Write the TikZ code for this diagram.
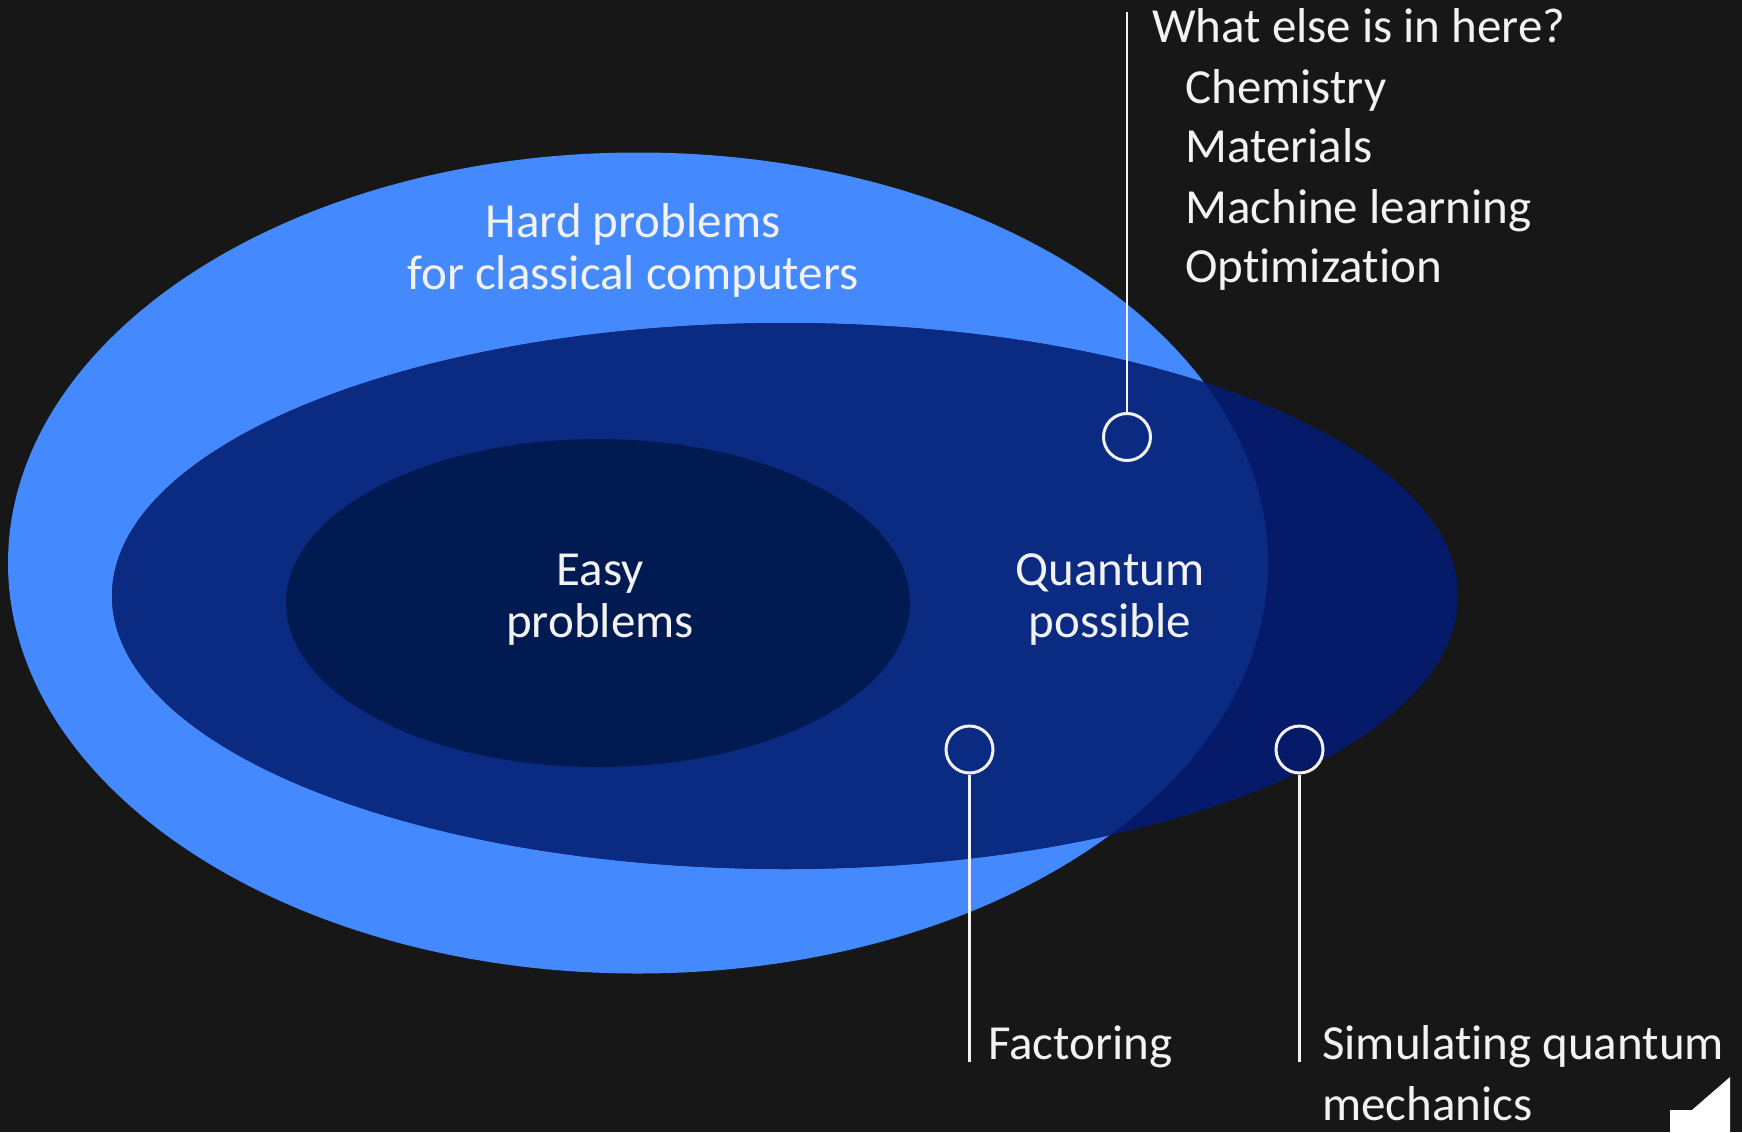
\documentclass[tikz,border=0pt]{standalone}
\usepackage{fontspec}
\setmainfont{Carlito}[RawFeature={-liga;-clig;-dlig;-calt;-rlig}]

\definecolor{pozadie}{HTML}{171717}
\definecolor{svetla}{HTML}{4589FF}
\definecolor{stredna}{HTML}{0B2A82}
\definecolor{tmava}{HTML}{061A6A}
\definecolor{lahka}{HTML}{011A52}
\definecolor{pismo}{HTML}{F2F2F2}

\tikzset{
  popis/.style={text=pismo, inner sep=0pt, font=\fontsize{49}{52}\selectfont},
  zoznam/.style={popis, anchor=base west},
  kruzok/.style={circle, draw=pismo, line width=3pt, minimum size=47pt, inner sep=0pt},
  vodic/.style={draw=pismo, line width=2.5pt}
}

\begin{document}
\begin{tikzpicture}[x=1pt,y=-1pt]
  % pozadie
  \fill[pozadie] (0,0) rectangle (1742,1132);
  \useasboundingbox (0,0) rectangle (1742,1132);

  % elipsy
  \fill[svetla] (638,563) ellipse [x radius=630, y radius=410.5];
  \fill[tmava] (785,596) ellipse [x radius=673, y radius=273];
  \begin{scope}
    \clip (638,563) ellipse [x radius=630, y radius=410.5];
    \fill[stredna] (785,596) ellipse [x radius=673, y radius=273];
  \end{scope}
  \fill[lahka] (598,603) ellipse [x radius=312, y radius=164];

  % popisy oblasti (base = posledny riadok)
  \node[popis, align=center, anchor=base] (tazke) at (633,289) {Hard problems\\for classical computers};
  \node[popis, align=center, anchor=base] (lahke) at (600,637) {Easy\\problems};
  \node[popis, align=center, anchor=base] (kvant) at (1110,637) {Quantum\\possible};

  % kruzky
  \node[kruzok] (horny) at (1127,437) {};
  \node[kruzok] (fakt) at (969.5,749.5) {};
  \node[kruzok] (simul) at (1299.5,749.5) {};

  % vodice
  \coordinate (hornyk) at (1127,12);
  \coordinate (faktk) at (969.5,1062);
  \coordinate (simulk) at (1299.5,1062);
  \draw[vodic] (horny.north) -- (hornyk);
  \draw[vodic] (fakt.south) -- (faktk);
  \draw[vodic] (simul.south) -- (simulk);

  % otazka a zoznam
  \node[zoznam] (otazka) at (1152,43) {What else is in here?};
  \node[zoznam] (chem) at (1185,103) {Chemistry};
  \node[zoznam] (mat) at (1185,162) {Materials};
  \node[zoznam] (ml) at (1185,223) {Machine learning};
  \node[zoznam] (opt) at (1185,282) {Opt\kern0pt imizat\kern0pt ion};

  % dolne popisy
  \node[zoznam] (faktp) at (988,1059) {Factoring};
  \node[zoznam] (simulp) at (1322,1059) {Simulat\kern0pt ing quantum};
  \node[zoznam] (simulp2) at (1322,1120) {mechanics};

  % roh
  \fill[white] (1670,1132) -- (1670,1110) -- (1692,1110) -- (1730,1077) -- (1730,1132) -- cycle;
\end{tikzpicture}
\end{document}
